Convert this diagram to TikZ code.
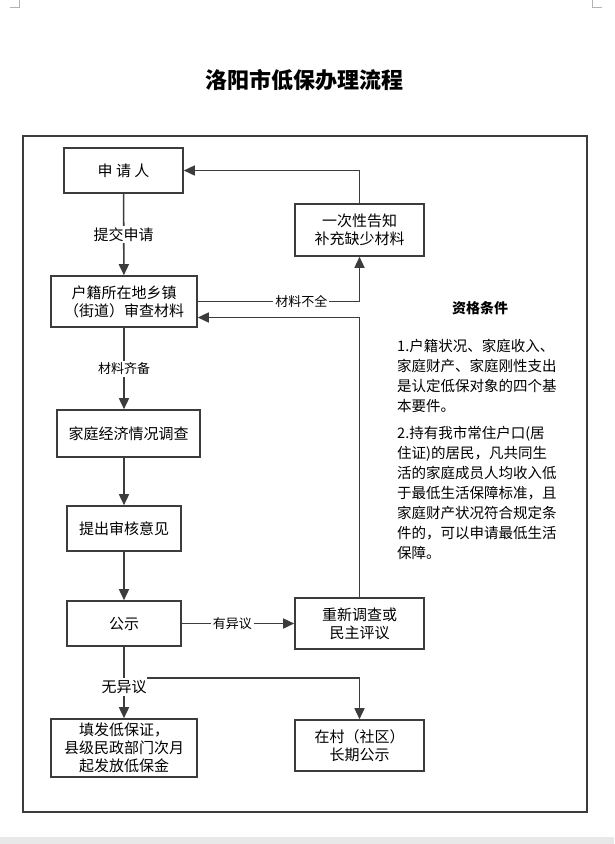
\documentclass[tikz,border=0pt]{standalone}
\usepackage{fontspec}
\setmainfont{Noto Sans CJK SC}
\usetikzlibrary{arrows.meta}

\definecolor{linea}{HTML}{3C3C3C}

\begin{document}
\begin{tikzpicture}[x=1pt, y=-1pt,
  box/.style={rectangle, draw=linea, line width=1.6pt, align=center, inner sep=0pt, font=\fontsize{15}{18}\selectfont},
  lbl/.style={fill=white, inner sep=2pt, font=\fontsize{13}{15}\selectfont},
  arr/.style={draw=linea, line width=1.6pt, -{Triangle[length=11pt,width=10pt]}}]

\useasboundingbox (0,0) rectangle (614,844);
\fill[gray!18] (0,837) rectangle (614,844);
\draw[gray!60, line width=0.6pt] (10,7) -- (19.5,7) -- (19.5,0);
\draw[gray!60, line width=0.6pt] (602,7) -- (592.5,7) -- (592.5,0);

\node[font=\fontsize{22}{26}\selectfont\bfseries] (title) at (304,80) {洛阳市低保办理流程};
\draw[draw=linea, line width=2.4pt] (23,136) rectangle (587,812);

% Posizioni dei nodi
\node[box, minimum width=119pt, minimum height=45pt] (req) at (123.5,170.5) {申\ 请\ 人};
\node[box, minimum width=146pt, minimum height=51pt] (check) at (124,301.5) {户籍所在地乡镇\\（街道）审查材料};
\node[box, minimum width=129pt, minimum height=52pt] (notify) at (359.5,230) {一次性告知\\补充缺少材料};
\node[box, minimum width=143pt, minimum height=47pt] (survey) at (128.5,433.5) {家庭经济情况调查};
\node[box, minimum width=114pt, minimum height=45pt] (opinion) at (124,528.5) {提出审核意见};
\node[box, minimum width=114pt, minimum height=45pt] (publish) at (124,623.5) {公示};
\node[box, minimum width=129pt, minimum height=51pt] (redo) at (359.5,623.5) {重新调查或\\民主评议};
\node[box, minimum width=146pt, minimum height=58pt] (issue) at (124,748) {填发低保证，\\县级民政部门次月\\起发放低保金};
\node[box, minimum width=129pt, minimum height=51pt] (village) at (359.5,745.5) {在村（社区）\\长期公示};

% Condizioni
\node[font=\fontsize{14}{16}\selectfont\bfseries] (cond) at (480,308) {资格条件};
\node[anchor=north west, inner sep=0pt, align=left, font=\fontsize{14.5}{20}\selectfont] (p1) at (397,339.4) {1.户籍状况、家庭收入、\\家庭财产、家庭刚性支出\\是认定低保对象的四个基\\本要件。};
\node[anchor=north west, inner sep=0pt, align=left, font=\fontsize{14.5}{20}\selectfont] (p2) at (397,426) {2.持有我市常住户口(居\\住证)的居民，凡共同生\\活的家庭成员人均收入低\\于最低生活保障标准，且\\家庭财产状况符合规定条\\件的，可以申请最低生活\\保障。};

% Archi
\draw[arr] (req) -- node[lbl, font=\fontsize{15}{18}\selectfont] {提交申请} (check);
\draw[arr] (check.east) -| node[lbl, pos=0.32] {材料不全} (notify.south);
\draw[arr] (notify.north) |- (req.east);
\draw[arr] (redo.north) |- ([yshift=-16pt]check.east);
\draw[arr] (check) -- node[lbl] {材料齐备} (check |- survey.north);
\draw[arr] (opinion |- survey.south) -- (opinion.north);
\draw[arr] (opinion) -- (publish);
\draw[arr] (publish) -- node[lbl, pos=0.45] {有异议} (redo);
\draw[arr] (publish) -- node[lbl, pos=0.56, font=\fontsize{15}{18}\selectfont] {无异议} (issue);
\coordinate (fork) at (147,678);
\draw[arr] (fork) -| (village.north);
\end{tikzpicture}
\end{document}
